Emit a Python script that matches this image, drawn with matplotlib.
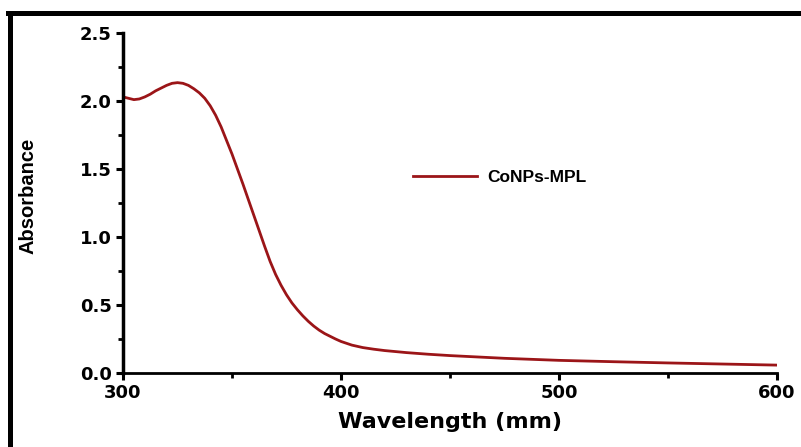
import matplotlib
matplotlib.use('Agg')
import matplotlib.pyplot as plt
from matplotlib.lines import Line2D
from matplotlib.ticker import MultipleLocator, FormatStrFormatter

# ── UV-Vis spectrum ────────────────────────────────────────────────────
wavelength = [300, 302.5, 305, 307.5, 310, 312.5, 315, 317.5, 320, 322.5,
              325, 327.5, 330, 332.5, 335, 337.5, 340, 342.5, 345, 347.5,
              350, 352.5, 355, 357.5, 360, 362.5, 365, 367.5, 370, 372.5,
              375, 377.5, 380, 382.5, 385, 387.5, 390, 392.5, 395, 397.5,
              400, 405, 410, 415, 420, 430, 440, 450, 475, 500, 525, 550,
              575, 600]
absorbance = [2.03, 2.02, 2.01, 2.015, 2.03, 2.05, 2.075, 2.095, 2.115, 2.13,
              2.135, 2.13, 2.115, 2.09, 2.06, 2.02, 1.965, 1.895, 1.81, 1.71,
              1.61, 1.50, 1.39, 1.275, 1.16, 1.045, 0.93, 0.82, 0.725, 0.645,
              0.575, 0.515, 0.465, 0.42, 0.38, 0.345, 0.315, 0.29, 0.27, 0.25,
              0.232, 0.205, 0.187, 0.175, 0.165, 0.15, 0.138, 0.128, 0.108,
              0.093, 0.083, 0.074, 0.066, 0.058]
series_label = "CoNPs-MPL"

fig = plt.figure(figsize=(8.01, 4.47), dpi=100)
ax = fig.add_axes([123/801, 1 - 373/447, 654/801, 340/447])

ax.plot(wavelength, absorbance, color='#9B1518', lw=2.0, label=series_label,
        solid_joinstyle='round')

ax.set_xlim(300, 600)
ax.set_ylim(0, 2.5)
ax.xaxis.set_major_locator(MultipleLocator(100))
ax.xaxis.set_minor_locator(MultipleLocator(50))
ax.yaxis.set_major_locator(MultipleLocator(0.5))
ax.yaxis.set_minor_locator(MultipleLocator(0.25))
ax.yaxis.set_major_formatter(FormatStrFormatter('%.1f'))

for s in ('top', 'right'):
    ax.spines[s].set_visible(False)
ax.spines['left'].set_linewidth(2.5)
ax.spines['bottom'].set_linewidth(2.0)

ax.tick_params(which='major', direction='out', length=5, width=2.2, pad=3)
ax.tick_params(which='minor', direction='out', length=3.5, width=2.0)
ax.tick_params(axis='x', which='major', pad=3)
for lab in ax.get_xticklabels() + ax.get_yticklabels():
    lab.set_fontfamily('DejaVu Sans')
    lab.set_fontweight('bold')
    lab.set_fontsize(13)

ax.set_xlabel('Wavelength (mm)', fontsize=16, fontweight='bold',
              family='DejaVu Sans', labelpad=7)
fig.text(28/801, 1 - 196/447, 'Absorbance', rotation=90, ha='center',
         va='center', fontsize=14.5, fontweight='bold',
         family='Liberation Sans')

ax.legend(loc='center left', bbox_to_anchor=(413/801, 1 - 177/447),
          bbox_transform=fig.transFigure, frameon=False, borderpad=0,
          borderaxespad=0, handlelength=3.7, handletextpad=0.6,
          prop={'family': 'Liberation Sans', 'weight': 'bold', 'size': 12.5})

# black border along the left and top edges of the image
fig.add_artist(Line2D([9.5/801, 9.5/801], [0, 1 - 13/447],
                      transform=fig.transFigure, color='black', lw=3.6))
fig.add_artist(Line2D([7.5/801, 1], [1 - 13/447, 1 - 13/447],
                      transform=fig.transFigure, color='black', lw=3.6))

fig.savefig('out.png', dpi=100, facecolor='white')
